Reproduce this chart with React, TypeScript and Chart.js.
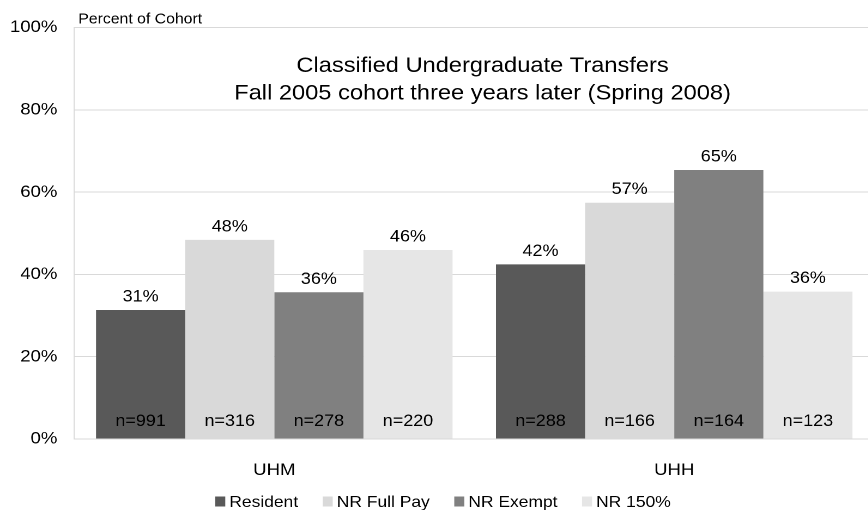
import React, { useEffect, useRef } from "react";
import { Chart, registerables } from "chart.js";

Chart.register(...registerables);

const categories = ["UHM", "UHH"];
const seriesNames = ["Resident", "NR Full Pay", "NR Exempt", "NR 150%"];
const resident = [31.35, 42.45];
const nrFullPay = [48.4, 57.42];
const nrExempt = [35.65, 65.37];
const nr150 = [45.93, 35.8];
const residentN = [991, 288];
const nrFullPayN = [316, 166];
const nrExemptN = [278, 164];
const nr150N = [220, 123];
const yTicks = [0, 20, 40, 60, 80, 100];
const titleLines = [
  "Classified Undergraduate Transfers",
  "Fall 2005 cohort three years later (Spring 2008)",
];
const yAxisCaption = "Percent of Cohort";

const colors = ["#595959", "#d9d9d9", "#808080", "#e6e6e6"];
const FONT = "'Liberation Sans', Arial, sans-serif";
const SX = 1.09;
const W = 802;
const H = 510;

export default function App() {
  const ref = useRef<HTMLCanvasElement | null>(null);

  useEffect(() => {
    const canvas = ref.current;
    if (!canvas) return;
    const values = [resident, nrFullPay, nrExempt, nr150];
    const counts = [residentN, nrFullPayN, nrExemptN, nr150N];

    const decorations = {
      id: "decorations",
      afterDatasetsDraw(chart: any) {
        const ctx = chart.ctx;
        ctx.save();
        ctx.fillStyle = "#000";
        ctx.textAlign = "center";
        ctx.textBaseline = "alphabetic";
        ctx.font = `16.5px ${FONT}`;
        chart.data.datasets.forEach((ds: any, di: number) => {
          const meta = chart.getDatasetMeta(di);
          meta.data.forEach((el: any, i: number) => {
            const v = ds.data[i];
            ctx.fillText(`${Math.round(v)}%`, el.x, el.y - 8.5);
            ctx.fillText(`n=${counts[di][i]}`, el.x, el.base - 12.5);
          });
        });
        // title
        ctx.font = `21.7px ${FONT}`;
        ctx.fillText(titleLines[0], 442.7, 72);
        ctx.fillText(titleLines[1], 442.7, 99.5);
        // y caption
        ctx.textAlign = "left";
        ctx.font = `14.5px ${FONT}`;
        ctx.fillText(yAxisCaption, 71.8, 23.3);
        // legend
        ctx.font = `16px ${FONT}`;
        const box = 9.2;
        const gap = 3.7;
        const spacing = 22.5;
        const widths = chart.data.datasets.map(
          (d: any) => box + gap + ctx.measureText(d.label).width
        );
        const total =
          widths.reduce((a: number, b: number) => a + b, 0) +
          spacing * (widths.length - 1);
        let x = 406.4 - total / 2;
        chart.data.datasets.forEach((d: any, di: number) => {
          ctx.fillStyle = d.backgroundColor;
          ctx.fillRect(x, 496.5, box, 10);
          ctx.fillStyle = "#000";
          ctx.fillText(d.label, x + box + gap, 507);
          x += widths[di] + spacing;
        });
        ctx.restore();
      },
    };

    const chart = new Chart(canvas, {
      type: "bar",
      data: {
        labels: categories,
        datasets: seriesNames.map((name, i) => ({
          label: name,
          data: values[i],
          backgroundColor: colors[i],
          borderWidth: 0,
          categoryPercentage: 0.8915,
          barPercentage: 1,
        })),
      },
      options: {
        animation: false,
        responsive: true,
        maintainAspectRatio: false,
        devicePixelRatio: 2,
        layout: { padding: { top: 27.5, left: 0, right: 0, bottom: 0 } },
        plugins: {
          legend: { display: false },
          title: { display: false },
          tooltip: { enabled: false },
        },
        scales: {
          x: {
            grid: { display: false },
            border: { display: true, color: "#d9d9d9" },
            ticks: {
              color: "#000",
              font: { family: FONT, size: 17 },
              padding: 13,
            },
            afterFit: (s: any) => {
              s.height = 71;
            },
          },
          y: {
            min: 0,
            max: 100,
            afterBuildTicks: (s: any) => {
              s.ticks = yTicks.map((v) => ({ value: v }));
            },
            grid: { color: "#d9d9d9", drawTicks: false, lineWidth: 1 },
            border: { display: true, color: "#d9d9d9" },
            ticks: {
              color: "#000",
              font: { family: FONT, size: 17 },
              padding: 15.6,
              callback: (v: any) => `${v}%`,
            },
            afterFit: (s: any) => {
              s.width = 68.2;
            },
          },
        },
      },
      plugins: [decorations],
    });
    return () => chart.destroy();
  }, []);

  return (
    <div
      style={{
        position: "fixed",
        left: 0,
        top: 0,
        width: 868,
        height: H,
        overflow: "hidden",
        background: "#fff",
      }}
    >
      <div
        style={{
          width: W,
          height: H,
          transform: `scaleX(${SX})`,
          transformOrigin: "0 0",
        }}
      >
        <canvas ref={ref} />
      </div>
    </div>
  );
}
